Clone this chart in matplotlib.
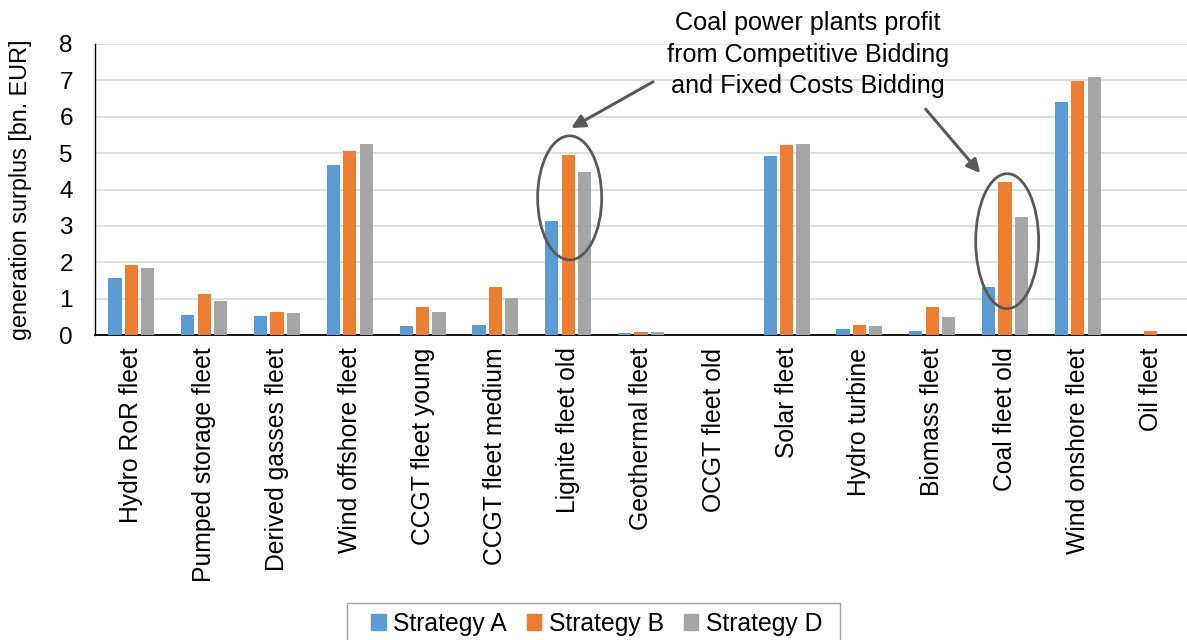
import matplotlib
matplotlib.use('Agg')
import matplotlib.pyplot as plt
import numpy as np
from matplotlib.patches import Ellipse, Patch, Rectangle

plt.rcParams['font.family'] = ['Liberation Sans', 'DejaVu Sans']

categories = ['Hydro RoR fleet', 'Pumped storage fleet', 'Derived gasses fleet',
              'Wind offshore fleet', 'CCGT fleet young', 'CCGT fleet medium',
              'Lignite fleet old', 'Geothermal fleet', 'OCGT fleet old', 'Solar fleet',
              'Hydro turbine', 'Biomass fleet', 'Coal fleet old', 'Wind onshore fleet',
              'Oil fleet']
strategy_a = [1.58, 0.55, 0.51, 4.67, 0.25, 0.27, 3.14, 0.05, 0.0, 4.92, 0.16, 0.10, 1.32, 6.41, 0.0]
strategy_b = [1.92, 1.12, 0.63, 5.06, 0.78, 1.32, 4.96, 0.07, 0.0, 5.22, 0.27, 0.78, 4.21, 6.98, 0.11]
strategy_d = [1.83, 0.93, 0.60, 5.25, 0.64, 1.02, 4.48, 0.07, 0.0, 5.26, 0.24, 0.49, 3.24, 7.10, 0.0]
series_names = ['Strategy A', 'Strategy B', 'Strategy D']
colors = ['#5B9BD5', '#ED7D31', '#A5A5A5']

annotation = 'Coal power plants profit\nfrom Competitive Bidding\nand Fixed Costs Bidding'


def main():
    fig = plt.figure(figsize=(11.87, 6.4), dpi=100)
    ax = fig.add_axes([95/1187, 1-335/640, 1092/1187, 291/640])

    x = np.arange(len(categories))
    w = 0.18; step = 0.225
    for i, (vals, c) in enumerate(zip([strategy_a, strategy_b, strategy_d], colors)):
        ax.bar(x + (i-1)*step, vals, width=w, color=c, zorder=3)

    ax.set_xlim(-0.5, len(categories)-0.5)
    ax.set_ylim(0, 8)
    ax.set_yticks(range(0, 9))
    ax.set_xticks(x)
    ax.set_xticklabels(categories, rotation=90, fontsize=17.8)
    ax.tick_params(axis='x', length=0, pad=9)
    ax.tick_params(axis='y', length=0, pad=16, labelsize=17.5)
    ax.yaxis.grid(True, color='#D9D9D9', lw=1.2, zorder=0)
    ax.set_axisbelow(True)
    for s in ['top', 'right']:
        ax.spines[s].set_visible(False)
    ax.spines['left'].set_linewidth(1.0)
    ax.spines['bottom'].set_linewidth(1.3)
    ax.set_ylabel('generation surplus [bn. EUR]', fontsize=16.8)
    ax.yaxis.set_label_coords(-0.0575, 0.5)

    # circles round the coal bars
    for cx, cy, ew, eh in [(6.02, 3.77, 0.88, 3.41), (12.03, 2.58, 0.865, 3.71)]:
        ax.add_patch(Ellipse((cx, cy), ew, eh, fill=False, ec='#595959', lw=2.0,
                             zorder=5, clip_on=False))

    ax.text(9.29, 7.71, annotation, ha='center', va='center', fontsize=18.2,
            linespacing=1.38, zorder=6, clip_on=False)
    arrow = dict(arrowstyle='-|>', color='#595959', lw=2.2, mutation_scale=20,
                 shrinkA=0, shrinkB=0)
    ax.annotate('', xy=(6.04, 5.69), xytext=(7.165, 6.96), arrowprops=arrow,
                annotation_clip=False)
    ax.annotate('', xy=(11.66, 4.45), xytext=(10.91, 6.21), arrowprops=arrow,
                annotation_clip=False)

    # legend box drawn by hand, as in the original it runs past the bottom edge
    fig.patches.append(Rectangle((347/1187, 1-645/640), 493/1187, 42/640,
                                 transform=fig.transFigure, fill=False,
                                 ec='#A0A0A0', lw=1.0))
    handles = [Patch(color=c) for c in colors]
    fig.legend(handles, series_names, loc='center',
               bbox_to_anchor=(596.5/1187, 1-624/640), ncol=3, fontsize=17.8,
               frameon=False, handlelength=0.6, handleheight=0.6,
               handletextpad=0.3, columnspacing=0.8, borderpad=0, borderaxespad=0)

    fig.savefig('out.png', dpi=100)
    plt.close(fig)


if __name__ == '__main__':
    main()
